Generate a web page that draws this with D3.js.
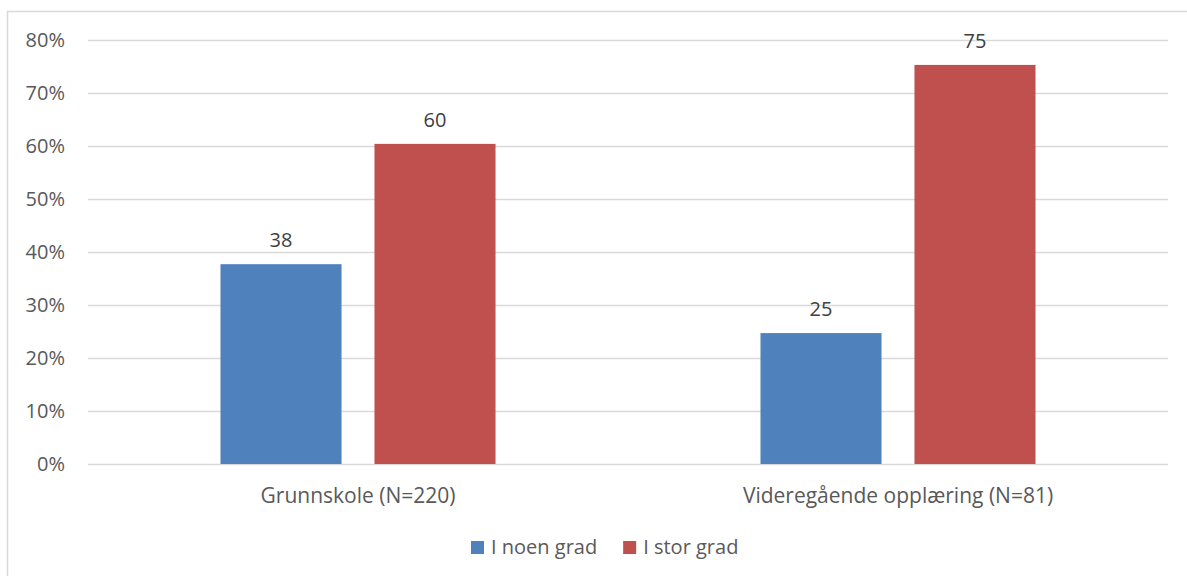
<!DOCTYPE html>
<html>
<head>
<meta charset="utf-8">
<script src="https://cdn.jsdelivr.net/npm/d3@7"></script>
<style>
  body { margin: 0; background: #fff; }
  text { font-family: "Open Sans", "Noto Sans", sans-serif; fill: #595959; }
</style>
</head>
<body>
<div id="chart"></div>
<script>
// data
var categories = ["Grunnskole (N=220)", "Videregående opplæring (N=81)"];
var seriesNames = ["I noen grad", "I stor grad"];
var seriesColors = ["#4f81bd", "#c0504d"];
var noenGrad = [37.7, 24.7];
var storGrad = [60.4, 75.3];
var yTicks = [0, 10, 20, 30, 40, 50, 60, 70, 80];

var rows = categories.map(function(c, i) {
    return { category: c, values: [noenGrad[i], storGrad[i]] };
});

var W = 1187, H = 576;
var margin = {top: 40, right: 19, bottom: 112, left: 88};
var width = W - margin.left - margin.right,
    height = H - margin.top - margin.bottom;

var svg = d3.select("#chart").append("svg")
    .attr("width", W)
    .attr("height", H);

// outer frame
svg.append("rect")
    .attr("x", 7.5).attr("y", 11.5)
    .attr("width", W + 20).attr("height", H + 20)
    .attr("fill", "none")
    .attr("stroke", "#d9d9d9")
    .attr("stroke-width", 1.5);

var g = svg.append("g")
    .attr("transform", "translate(" + margin.left + "," + margin.top + ")");

// scales
var x0 = d3.scaleBand()
    .domain(categories)
    .range([0, width])
    .paddingInner(0.4907)
    .paddingOuter(0.4907 / 2);

var x1 = d3.scaleBand()
    .domain(d3.range(seriesNames.length))
    .range([0, x0.bandwidth()])
    .paddingInner(0.214);

var y = d3.scaleLinear().domain([0, 80]).range([height, 0]);

// gridlines
g.append("g")
    .selectAll("line")
    .data(yTicks)
    .enter().append("line")
    .attr("x1", 0).attr("x2", width)
    .attr("y1", function(d) { return Math.round(y(d)) + 0.5; })
    .attr("y2", function(d) { return Math.round(y(d)) + 0.5; })
    .attr("stroke", "#d9d9d9")
    .attr("stroke-width", 1.5);

// y axis labels
var yAxis = g.append("g")
    .call(d3.axisLeft(y).tickValues(yTicks).tickFormat(function(d) { return d + "%"; }).tickSize(0).tickPadding(23));
yAxis.select(".domain").remove();
yAxis.selectAll("text").style("font-size", "20px").attr("fill", "#595959");

// bars
var groups = g.selectAll(".grp")
    .data(rows)
    .enter().append("g")
    .attr("class", "grp")
    .attr("transform", function(d) { return "translate(" + x0(d.category) + ",0)"; });

groups.selectAll("rect")
    .data(function(d) { return d.values; })
    .enter().append("rect")
    .attr("x", function(d, i) { return x1(i); })
    .attr("y", function(d) { return y(d); })
    .attr("width", x1.bandwidth())
    .attr("height", function(d) { return height - y(d); })
    .attr("fill", function(d, i) { return seriesColors[i]; });

groups.selectAll(".lbl")
    .data(function(d) { return d.values; })
    .enter().append("text")
    .attr("class", "lbl")
    .attr("x", function(d, i) { return x1(i) + x1.bandwidth() / 2; })
    .attr("y", function(d) { return y(d) - 17; })
    .attr("text-anchor", "middle")
    .style("font-size", "20px")
    .style("fill", "#404040")
    .text(function(d) { return d3.format(".0f")(d); });

// x axis labels
var xAxis = g.append("g")
    .attr("transform", "translate(0," + height + ")")
    .call(d3.axisBottom(x0).tickSize(0).tickPadding(24));
xAxis.select(".domain").remove();
xAxis.selectAll("text").style("font-size", "21px").attr("fill", "#595959");

// legend
var legend = svg.append("g").attr("transform", "translate(471,541)");
var lx = 0;
seriesNames.forEach(function(name, i) {
    var item = legend.append("g").attr("transform", "translate(" + lx + ",0)");
    item.append("rect")
        .attr("width", 13).attr("height", 13)
        .attr("fill", seriesColors[i]);
    var t = item.append("text")
        .attr("x", 20).attr("y", 13)
        .style("font-size", "20px")
        .text(name);
    lx += 20 + t.node().getComputedTextLength() + 26;
});
</script>
</body>
</html>
